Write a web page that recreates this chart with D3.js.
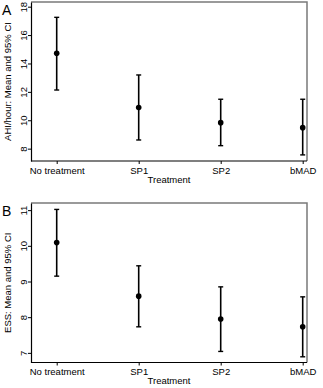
<!DOCTYPE html>
<html>
<head>
<meta charset="utf-8">
<script src="https://cdn.jsdelivr.net/npm/d3@7"></script>
<style>
  body { margin: 0; background: #fff; }
  svg { display: block; font-family: "Liberation Sans", Arial, sans-serif; }
</style>
</head>
<body>
<svg id="chart" width="323" height="388"></svg>
<script>
/*jslint browser: true*/

var treatments = ['No treatment', 'SP1', 'SP2', 'bMAD'];

// panel A: AHI/hour
var ahiMean = [14.72, 10.89, 9.83, 9.48];
var ahiLow = [12.13, 8.61, 8.21, 7.56];
var ahiHigh = [17.25, 13.19, 11.48, 11.48];
var ahiTicks = [8, 10, 12, 14, 16, 18];

// panel B: ESS
var essMean = [10.09, 8.59, 7.95, 7.73];
var essLow = [9.15, 7.73, 7.04, 6.89];
var essHigh = [11.02, 9.44, 8.85, 8.57];
var essTicks = [7, 8, 9, 10, 11];

(function (d3) {
    'use strict';

    var svg = d3.select('#chart');

    function drawPanel(opts) {
        var g = svg.append('g');
        var left = 31, right = 307;

        var x = d3.scalePoint().domain(treatments).range([56.7, 302.7]);
        var y = d3.scaleLinear().domain(opts.domain).range([opts.bottom, opts.top]);

        var rows = treatments.map(function (t, i) {
            return {name: t, mean: opts.mean[i], lo: opts.low[i], hi: opts.high[i]};
        });

        // grey top / right frame
        g.append('path')
            .attr('d', 'M' + left + ',' + opts.top + 'H' + right + 'V' + opts.bottom)
            .attr('fill', 'none')
            .attr('stroke', '#7a7a7a')
            .attr('stroke-width', 1.5);

        // y axis, labels turned sideways like the stata output
        var yAxis = g.append('g')
            .attr('transform', 'translate(' + left + ',0)')
            .call(d3.axisLeft(y).tickValues(opts.ticks).tickFormat(d3.format('d'))
                .tickSize(3).tickSizeOuter(0));
        yAxis.select('.domain').attr('stroke', '#000').attr('stroke-width', 1.2);
        yAxis.selectAll('.tick line').attr('stroke', '#000');
        yAxis.selectAll('.tick text')
            .attr('font-size', 9.5)
            .attr('fill', '#000')
            .attr('text-anchor', 'middle')
            .attr('transform', 'rotate(-90)')
            .attr('x', 0)
            .attr('dy', 0)
            .attr('y', -4.5);

        // x axis
        var xAxis = g.append('g')
            .attr('transform', 'translate(0,' + opts.bottom + ')')
            .call(d3.axisBottom(x).tickSize(3).tickPadding(3).tickSizeOuter(0));
        xAxis.select('.domain')
            .attr('d', 'M' + left + ',0H' + right)
            .attr('stroke', '#000').attr('stroke-width', 1.2);
        xAxis.selectAll('.tick line').attr('stroke', '#000');
        xAxis.selectAll('.tick text').attr('font-size', 9.5).attr('fill', '#000');

        // axis titles
        g.append('text')
            .attr('x', 169)
            .attr('y', opts.bottom + 21.5)
            .attr('text-anchor', 'middle')
            .attr('font-size', 9.5)
            .text('Treatment');

        g.append('text')
            .attr('transform', 'translate(11,' + ((opts.top + opts.bottom) / 2) + ') rotate(-90)')
            .attr('text-anchor', 'middle')
            .attr('font-size', 9.5)
            .text(opts.title);

        g.append('text')
            .attr('x', 2)
            .attr('y', opts.top + 13)
            .attr('font-size', 14)
            .text(opts.letter);

        // error bars
        var bars = g.selectAll('.bar').data(rows).enter().append('g').attr('class', 'bar');
        bars.append('line')
            .attr('x1', function (d) { return x(d.name); })
            .attr('x2', function (d) { return x(d.name); })
            .attr('y1', function (d) { return y(d.lo); })
            .attr('y2', function (d) { return y(d.hi); })
            .attr('stroke', '#000').attr('stroke-width', 1.6);
        ['lo', 'hi'].forEach(function (k) {
            bars.append('line')
                .attr('x1', function (d) { return x(d.name) - 2.5; })
                .attr('x2', function (d) { return x(d.name) + 2.5; })
                .attr('y1', function (d) { return y(d[k]); })
                .attr('y2', function (d) { return y(d[k]); })
                .attr('stroke', '#000').attr('stroke-width', 1.4);
        });
        bars.append('circle')
            .attr('cx', function (d) { return x(d.name); })
            .attr('cy', function (d) { return y(d.mean); })
            .attr('r', 2.8)
            .attr('fill', '#000');
    }

    drawPanel({
        letter: 'A', title: 'AHI/hour: Mean and 95% CI',
        mean: ahiMean, low: ahiLow, high: ahiHigh, ticks: ahiTicks,
        domain: [7.13, 18.33], top: 2, bottom: 161
    });

    drawPanel({
        letter: 'B', title: 'ESS: Mean and 95% CI',
        mean: essMean, low: essLow, high: essHigh, ticks: essTicks,
        domain: [6.73, 11.2], top: 203, bottom: 362.5
    });

}(window.d3));
</script>
</body>
</html>
